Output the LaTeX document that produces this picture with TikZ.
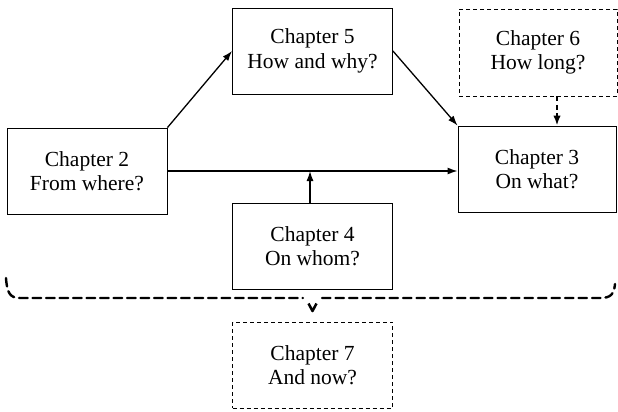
\documentclass[tikz,border=0pt]{standalone}
\usepackage{fontspec}
\setmainfont{Liberation Serif}
\usetikzlibrary{arrows.meta}
\tikzset{
  chap/.style={draw, line width=0.9pt, minimum width=160pt, minimum height=86pt,
    align=center, inner sep=0pt, font=\fontsize{21.5}{24.5}\selectfont},
  chapdash/.style={chap, dash pattern=on 4pt off 3pt},
  arr/.style={line width=1.3pt, -{Latex[length=10pt,width=7pt]}},
  darr/.style={line width=2pt, dash pattern=on 5pt off 3.5pt, -{Latex[length=10pt,width=7.5pt]}},
  bracedash/.style={line width=2.4pt, dash pattern=on 8.5pt off 5pt, line cap=round},
}
\begin{document}
\begin{tikzpicture}[x=1pt,y=-1pt]
\useasboundingbox (0,0) rectangle (618,412);
\node[chap] (ch5) at (312.5,51) {Chapter 5\\How and why?};
\node[chapdash, minimum width=158pt, minimum height=87pt] (ch6) at (538,52.5) {Chapter 6\\How long?};
\node[chap] (ch2) at (87,171) {Chapter 2\\From where?};
\node[chap, minimum width=158pt] (ch3) at (537,169) {Chapter 3\\On what?};
\node[chap] (ch4) at (312.5,246) {Chapter 4\\On whom?};
\node[chapdash] (ch7) at (312.5,365) {Chapter 7\\And now?};

\draw[arr] (ch2.north east) -- (ch5.west);
\draw[arr] (ch5.east) -- (ch3.north west);
\draw[arr] (ch2.east) -- (ch2.east -| ch3.west);
\draw[arr] ([xshift=-2.5pt]ch4.north) -- ([xshift=-2.5pt]ch4.north |- ch2.east);
\draw[darr] ([xshift=19pt]ch6.south) -- ([xshift=19pt]ch6.south |- ch3.north);

\coordinate (bl) at (6,278);
\coordinate (br) at (615,284);
\coordinate (tipl) at (303,298);
\coordinate (tipr) at (322,298);
\coordinate (tip) at (312.5,311);
\draw[bracedash] (bl) .. controls (7,293) and (10,298) .. (20,298) -- (tipl);
\draw[bracedash] (tipr) -- (600,298) .. controls (611,298) and (614,294) .. (br);
\draw[line width=2.5pt, line join=round] (308.5,303.5) -- (tip) -- (316.5,303.5);
\end{tikzpicture}
\end{document}
